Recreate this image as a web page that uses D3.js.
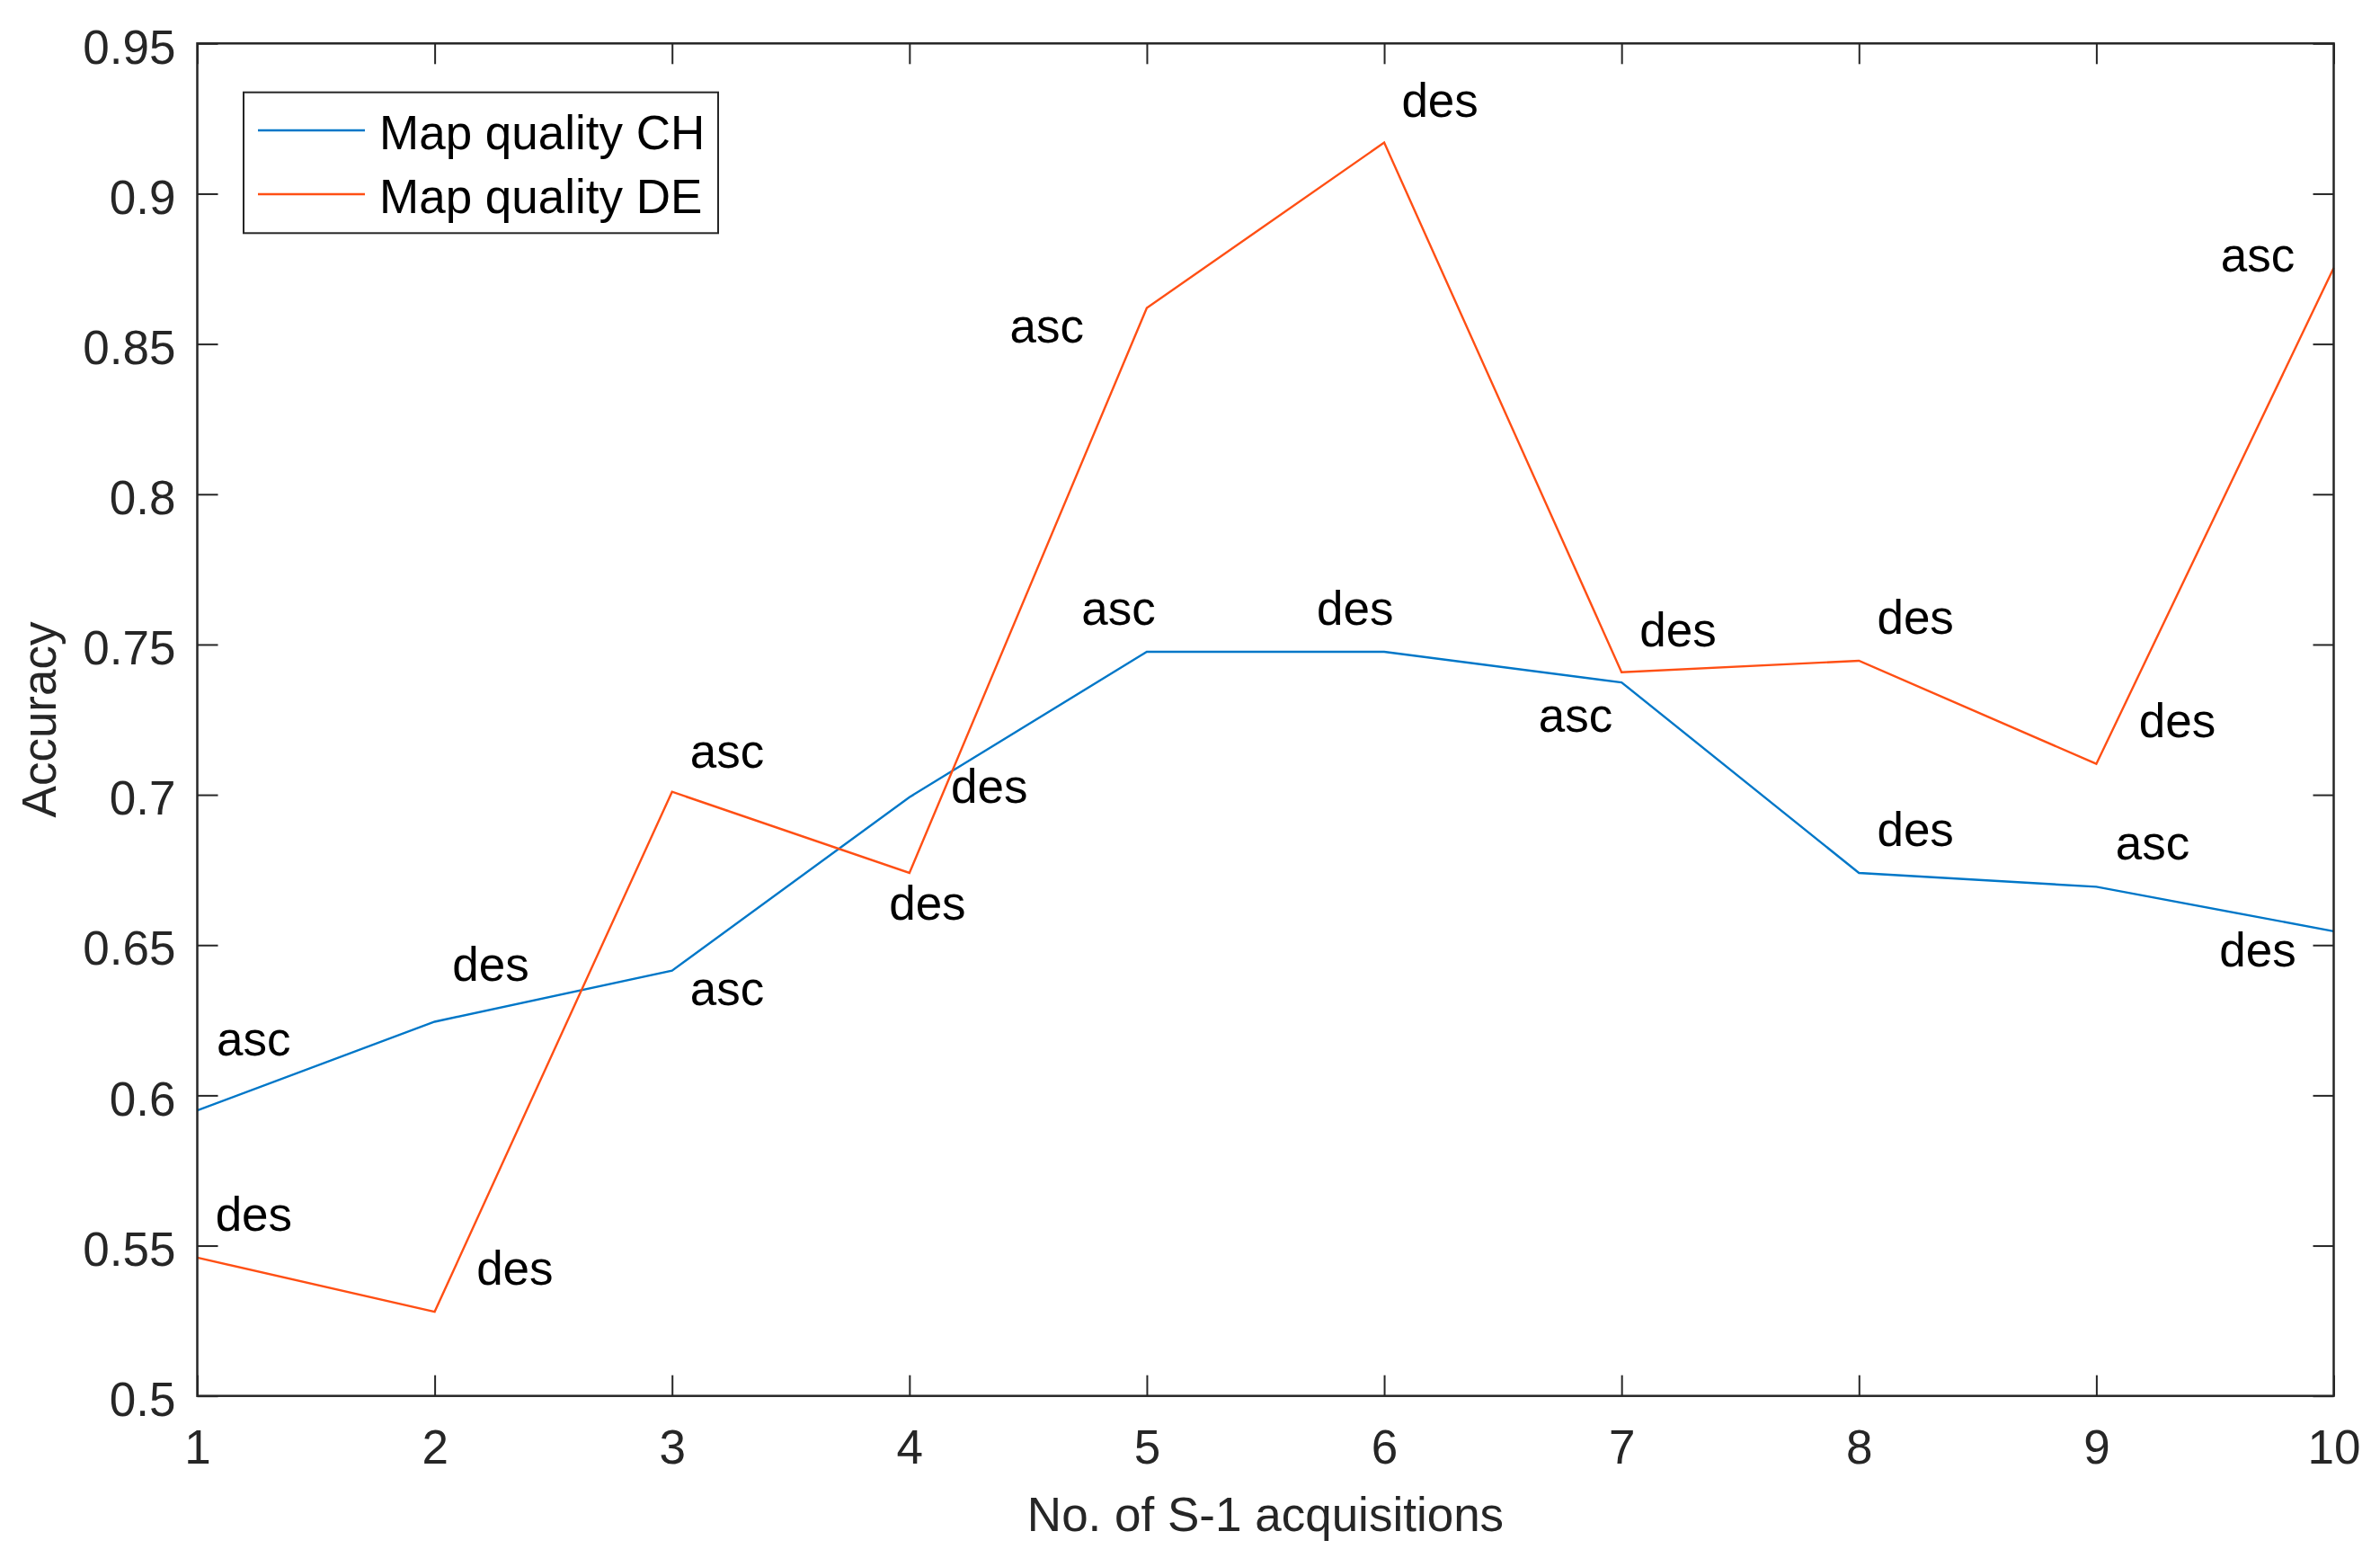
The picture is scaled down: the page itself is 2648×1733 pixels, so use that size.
<!DOCTYPE html>
<html>
<head>
<meta charset="utf-8">
<script src="https://cdn.jsdelivr.net/npm/d3@7"></script>
<style>
	body { margin: 0; background: #fff; }
	svg text { font-family: "Liberation Sans", Arial, Helvetica, sans-serif; }
</style>
</head>
<body>
<div class="chart"></div>
<script>
// values
var acquisitions = [1, 2, 3, 4, 5, 6, 7, 8, 9, 10];
var qualityCH = [0.595, 0.6245, 0.6415, 0.6992, 0.7476, 0.7476, 0.7374, 0.674, 0.6694, 0.6546];
var qualityDE = [0.546, 0.528, 0.701, 0.674, 0.862, 0.917, 0.7408, 0.7446, 0.7103, 0.8753];

// orbit annotations (text() calls in data coordinates)
var labelsCH = ["asc", "des", "asc", "des", "asc", "des", "asc", "des", "asc", "des"];
var labelCHx = [1.238, 2.236, 3.232, 4.337, 4.881, 5.878, 6.806, 8.238, 9.237, 9.680];
var labelCHy = [0.6133, 0.6381, 0.6300, 0.6972, 0.7566, 0.7566, 0.7211, 0.6830, 0.6784, 0.6429];
var labelsDE = ["des", "des", "asc", "des", "asc", "des", "des", "des", "des", "asc"];
var labelDEx = [1.238, 2.338, 3.232, 4.076, 4.579, 6.235, 7.238, 8.238, 9.341, 9.680];
var labelDEy = [0.5550, 0.5370, 0.7091, 0.6584, 0.8506, 0.9256, 0.7494, 0.7535, 0.7193, 0.8742];

var xTicks = [1, 2, 3, 4, 5, 6, 7, 8, 9, 10];
var yTicks = [0.5, 0.55, 0.6, 0.65, 0.7, 0.75, 0.8, 0.85, 0.9, 0.95];
var yTickLabels = ["0.5", "0.55", "0.6", "0.65", "0.7", "0.75", "0.8", "0.85", "0.9", "0.95"];
var seriesNames = ["Map quality CH", "Map quality DE"];
var seriesColors = ["#0077C8", "#FF4F14"];

var width = 2648, height = 1733;
var plotLeft = 219.5, plotRight = 2596.5, plotTop = 48.3, plotBottom = 1552.7;
var fontSize = 53;
var axisColor = "#262626";

var svg = d3.select("div.chart")
	.append("svg")
	.attr("width", width)
	.attr("height", height)
	.style("display", "block");

svg.append("rect")
	.attr("width", width)
	.attr("height", height)
	.attr("fill", "#fff");

var xScale = d3.scaleLinear().domain([1, 10]).range([plotLeft, plotRight]);
var yScale = d3.scaleLinear().domain([0.5, 0.95]).range([plotBottom, plotTop]);

// axes: inward ticks on all four sides
var tickLen = 23;
var xAxisBottom = d3.axisBottom(xScale).tickValues(xTicks).tickFormat(d3.format("d"))
	.tickSizeInner(-tickLen).tickSizeOuter(0).tickPadding(38);
var xAxisTop = d3.axisTop(xScale).tickValues(xTicks).tickFormat("")
	.tickSizeInner(-tickLen).tickSizeOuter(0);
var yAxisLeft = d3.axisLeft(yScale).tickValues(yTicks)
	.tickFormat(function(d, i){ return yTickLabels[i]; })
	.tickSizeInner(-tickLen).tickSizeOuter(0).tickPadding(24);
var yAxisRight = d3.axisRight(yScale).tickValues(yTicks).tickFormat("")
	.tickSizeInner(-tickLen).tickSizeOuter(0);

function styleAxis(g){
	g.select(".domain").remove();
	g.selectAll(".tick line").attr("stroke", axisColor).attr("stroke-width", 2);
	g.selectAll(".tick text")
		.attr("fill", axisColor)
		.style("font-size", fontSize + "px")
		.style("font-family", "'Liberation Sans', Arial, Helvetica, sans-serif");
}

svg.append("g").attr("transform", "translate(0," + plotBottom + ")").call(xAxisBottom).call(styleAxis);
svg.append("g").attr("transform", "translate(0," + plotTop + ")").call(xAxisTop).call(styleAxis);
svg.append("g").attr("transform", "translate(" + plotLeft + ",0)").call(yAxisLeft).call(styleAxis)
	.selectAll(".tick text").attr("dy", "0.41em");
svg.append("g").attr("transform", "translate(" + plotRight + ",0)").call(yAxisRight).call(styleAxis);

// series lines
var line = d3.line()
	.x(function(d){ return xScale(d.x); })
	.y(function(d){ return yScale(d.y); });

var series = [qualityCH, qualityDE].map(function(vals, k){
	return {
		name: seriesNames[k],
		color: seriesColors[k],
		points: vals.map(function(v, i){ return {x: acquisitions[i], y: v}; })
	};
});

svg.append("g").selectAll("path")
	.data(series)
	.enter()
	.append("path")
	.attr("d", function(d){ return line(d.points); })
	.attr("fill", "none")
	.attr("stroke", function(d){ return d.color; })
	.attr("stroke-width", 2.4)
	.attr("stroke-linejoin", "miter");

// asc / des annotations
var notes = labelsCH.map(function(t, i){ return {t: t, x: labelCHx[i], y: labelCHy[i]}; })
	.concat(labelsDE.map(function(t, i){ return {t: t, x: labelDEx[i], y: labelDEy[i]}; }));

svg.append("g").selectAll("text")
	.data(notes)
	.enter()
	.append("text")
	.attr("x", function(d){ return xScale(d.x); })
	.attr("y", function(d){ return yScale(d.y); })
	.attr("text-anchor", "middle")
	.style("font-size", fontSize + "px")
	.attr("fill", "#000")
	.text(function(d){ return d.t; });

// plot box
svg.append("rect")
	.attr("x", plotLeft)
	.attr("y", plotTop)
	.attr("width", plotRight - plotLeft)
	.attr("height", plotBottom - plotTop)
	.attr("fill", "none")
	.attr("stroke", axisColor)
	.attr("stroke-width", 2.5);

// axis titles
svg.append("text")
	.attr("x", (plotLeft + plotRight) / 2)
	.attr("y", 1703)
	.attr("text-anchor", "middle")
	.style("font-size", fontSize + "px")
	.attr("fill", axisColor)
	.text("No. of S-1 acquisitions");

svg.append("text")
	.attr("transform", "translate(62," + ((plotTop + plotBottom) / 2) + ") rotate(-90)")
	.attr("text-anchor", "middle")
	.style("font-size", fontSize + "px")
	.attr("fill", axisColor)
	.text("Accuracy");

// legend
var legend = svg.append("g").classed("legend", true);
legend.append("rect")
	.attr("x", 271)
	.attr("y", 102.7)
	.attr("width", 528)
	.attr("height", 156.6)
	.attr("fill", "#fff")
	.attr("stroke", axisColor)
	.attr("stroke-width", 2);

var items = legend.selectAll("g.item")
	.data(series)
	.enter()
	.append("g")
	.classed("item", true)
	.attr("transform", function(d, i){ return "translate(0," + (145 + i * 71) + ")"; });

items.append("line")
	.attr("x1", 287)
	.attr("x2", 406)
	.attr("stroke", function(d){ return d.color; })
	.attr("stroke-width", 2.4);

items.append("text")
	.attr("x", 422)
	.attr("y", 21)
	.style("font-size", fontSize + "px")
	.attr("fill", "#000")
	.text(function(d){ return d.name; });
</script>
</body>
</html>
